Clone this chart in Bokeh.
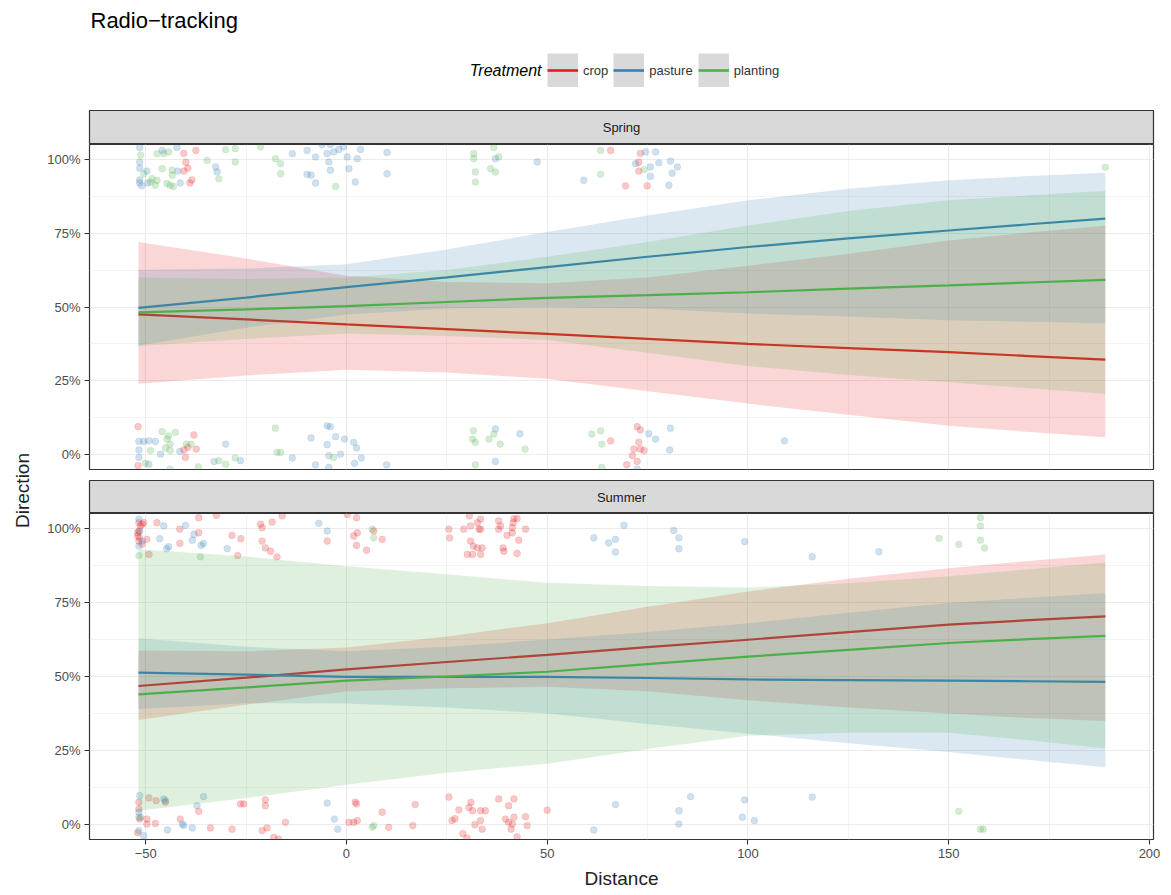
import math
from bokeh.plotting import figure
from bokeh.models import (Range1d, FixedTicker, NumeralTickFormatter, Label,
                          Legend, LegendItem)
from bokeh.layouts import column, row
from bokeh.embed import file_html
from bokeh.resources import INLINE

FONT = "Liberation Sans"
TITLE = "Radio\u2212tracking"
treatments = ["crop", "pasture", "planting"]
colors = ["#E41A1C", "#377EB8", "#4DAF4A"]
seasons = ["Spring", "Summer"]
x_ticks = [-50, 0, 50, 100, 150, 200]
x_minor = [-25, 25, 75, 125, 175]
y_ticks = [0, 0.25, 0.5, 0.75, 1.0]
y_minor = [0.125, 0.375, 0.625, 0.875]

# fitted curves (probability) read at these distances
fit_x = [-51.8, -25, 0, 25, 50, 75, 100, 125, 150, 170, 189]

spring_crop_fit = [0.475, 0.458, 0.441, 0.425, 0.409, 0.392, 0.375, 0.361, 0.347, 0.334, 0.322]
spring_crop_lo = [0.240, 0.268, 0.288, 0.278, 0.257, 0.215, 0.173, 0.135, 0.098, 0.077, 0.059]
spring_crop_hi = [0.720, 0.664, 0.606, 0.585, 0.580, 0.600, 0.640, 0.680, 0.725, 0.752, 0.775]
spring_pasture_fit = [0.497, 0.532, 0.567, 0.600, 0.635, 0.670, 0.703, 0.732, 0.759, 0.780, 0.799]
spring_pasture_lo = [0.370, 0.430, 0.475, 0.495, 0.500, 0.495, 0.478, 0.468, 0.455, 0.450, 0.445]
spring_pasture_hi = [0.626, 0.630, 0.645, 0.695, 0.754, 0.810, 0.861, 0.900, 0.929, 0.943, 0.954]
spring_planting_fit = [0.482, 0.492, 0.503, 0.517, 0.531, 0.540, 0.550, 0.562, 0.573, 0.583, 0.592]
spring_planting_lo = [0.368, 0.392, 0.410, 0.402, 0.388, 0.345, 0.300, 0.270, 0.245, 0.225, 0.206]
spring_planting_hi = [0.600, 0.595, 0.600, 0.625, 0.670, 0.720, 0.776, 0.825, 0.861, 0.878, 0.893]

summer_crop_fit = [0.468, 0.496, 0.524, 0.549, 0.573, 0.599, 0.624, 0.650, 0.675, 0.690, 0.703]
summer_crop_lo = [0.353, 0.405, 0.449, 0.460, 0.465, 0.450, 0.420, 0.395, 0.375, 0.360, 0.350]
summer_crop_hi = [0.588, 0.585, 0.598, 0.635, 0.680, 0.735, 0.787, 0.830, 0.865, 0.890, 0.912]
summer_pasture_fit = [0.513, 0.506, 0.499, 0.499, 0.499, 0.495, 0.490, 0.488, 0.486, 0.484, 0.482]
summer_pasture_lo = [0.390, 0.410, 0.409, 0.395, 0.375, 0.340, 0.307, 0.275, 0.245, 0.218, 0.194]
summer_pasture_hi = [0.629, 0.600, 0.585, 0.600, 0.625, 0.650, 0.680, 0.715, 0.748, 0.766, 0.782]
summer_planting_fit = [0.440, 0.463, 0.486, 0.500, 0.516, 0.542, 0.567, 0.590, 0.613, 0.626, 0.637]
summer_planting_lo = [0.047, 0.090, 0.135, 0.175, 0.206, 0.255, 0.300, 0.310, 0.310, 0.285, 0.257]
summer_planting_hi = [0.929, 0.905, 0.872, 0.845, 0.816, 0.805, 0.800, 0.815, 0.838, 0.862, 0.885]

# jittered observations (distance, direction)
spring_crop_x = [-40.5, -40.0, -39.5, -40.5, -39.0, -38.5, -37.5, 65.8, 73.2, 72.8, 72.8, 69.5, 74.9,
                 -51.9, -38.0, -37.4, -40.1, -39.5, -40.5, -51.9,
                 72.4, 73.2, 65.8, 72.8, 71.6, 73.2, 74.1, 71.2, 72.4, 69.8]
spring_crop_y = [1.02, 0.99, 0.97, 0.96, 0.92, 0.93, 1.03, 1.03, 1.02, 0.99, 0.96, 0.91, 0.91,
                 0.095, 0.067, 0.019, -0.009, 0.025, 0.016, -0.037,
                 0.095, 0.084, 0.047, 0.042, 0.019, 0.019, 0.014, -0.003, -0.023, -0.034]

spring_pasture_x = [-51.5, -51.5, -51.5, -51.5, -51.5, -51.0, -49.7, -49.5, -45.9, -41.4, -42.0, -42.2,
                    -32.6, -32.2, -13.5, -9.8, -7.7, -4.8, -3.2, -1.9, -0.7, -4.4, -4.0, 0.2, 0.6,
                    2.7, 3.5, 2.2, -7.7, -8.8, -9.8, 10.1, 10.1, -6.1, -4.0,
                    37.1, 47.5, 59.1, 74.5, 77.0, 75.7, 77.8, 80.7, 81.1, 82.4, 75.7, 80.3, 72.0,
                    -51.7, -50.5, -49.2, -47.6, -51.7, -51.7, -49.2, -46.3, -41.5, -30.1, -33.0, -26.4,
                    -4.8, -4.0, -8.8, -2.7, -0.5, 1.8, 2.5, -4.8, -1.5, -4.4, -13.5, -7.7, -4.4, 2.0,
                    3.7, 10.0, 37.1, 43.2, 75.3, 77.0, 80.7, 80.5, 37.1, 72.4, 109.1]
spring_pasture_y = [1.04, 0.99, 0.97, 0.93, 0.92, 0.91, 0.96, 0.92, 1.03, 0.92, 0.96, 1.04,
                    0.974, 0.957, 1.019, 1.03, 1.008, 1.019, 1.025, 1.033, 1.042, 0.991, 0.963, 1.008,
                    0.968, 1.002, 1.033, 0.923, 0.92, 0.946, 0.949, 1.023, 0.951, 1.05, 1.05,
                    1.002, 0.991, 0.929, 1.025, 1.025, 0.974, 0.988, 0.994, 0.953, 0.974, 0.942, 0.912, 0.985,
                    0.045, 0.045, 0.047, 0.045, 0.016, -0.009, -0.032, 0.002, 0.011, 0.036, -0.023, -0.02,
                    0.098, 0.095, 0.057, 0.061, 0.053, 0.042, 0.023, 0.034, 0.002, -0.003, -0.011, -0.034,
                    -0.043, -0.029, -0.011, -0.034, 0.087, 0.071, 0.071, 0.053, 0.09, 0.016, -0.023,
                    -0.049, 0.047]

spring_planting_x = [-51.3, -50.5, -47.2, -45.5, -44.3, -45.9, -43.4, -43.4, -48.4, -47.2, -44.7, -43.9,
                     -43.1, -47.6, -48.8, -34.7, -31.8, -27.7, -27.7, -30.1, -21.4, -17.7, -16.4, -16.4,
                     -2.7, 31.7, 31.7, 32.1, 32.1, 36.7, 37.9, 35.9, 37.1, 63.3, 63.3, 74.1, 189.0,
                     -45.9, -44.3, -42.6, -44.7, -43.9, -45.1, -48.8, -39.9, -38.7, -43.9, -50.1, -31.8,
                     -30.1, -27.7, -36.9, -43.9, -17.7, -17.3, -16.4, -3.2, 31.6, 31.4, 32.1, 32.1,
                     36.7, 35.5, 38.3, 44.5, 61.1, 63.3, 63.6, 63.6]
spring_planting_y = [1.014, 0.951, 1.019, 1.019, 1.025, 0.968, 0.963, 0.946, 0.934, 0.929, 0.918, 0.912,
                     0.908, 0.912, 0.923, 0.996, 0.934, 0.991, 1.036, 1.033, 1.042, 1.002, 0.985, 0.951,
                     0.908, 1.019, 1.002, 0.957, 0.923, 1.04, 1.008, 0.968, 0.957, 1.03, 0.949, 0.965, 0.973,
                     0.078, 0.064, 0.076, 0.053, 0.036, 0.023, 0.014, 0.036, 0.036, 0.014, -0.029, -0.02,
                     -0.032, -0.011, -0.041, -0.049, 0.09, 0.008, 0.008, -0.009, 0.081, 0.053, 0.042, -0.034,
                     0.07, 0.053, 0.036, 0.019, 0.07, 0.081, 0.036, -0.043]

summer_crop_x = [-51.7, -51.3, -50.5, -51.7, -52.0, -51.7, -50.9, -49.7, -49.2, -47.2, -41.5, -41.5,
                 -36.8, -36.8, -32.4, -28.5, -26.3, -27.1, -21.4, -21.0, -21.0, -20.2, -18.5, -18.9,
                 -17.3, -16.0, -4.8, 0.2, 2.5, 2.7, 1.8, 2.5, 5.0, 8.9, 6.8, -52.0, -51.5, -50.9,
                 25.5, 25.7, 29.2, 30.9, 32.6, 33.0, 30.9, 31.6, 30.1, 31.4, 32.6, 30.6,
                 33.4, 33.4, 33.8, 33.4, 37.9, 37.9, 38.4, 40.0, 41.3, 41.3, 41.7, 42.5, 41.5, 42.9,
                 42.5, 39.0, 39.2, 44.6,
                 -51.7, -51.7, -51.5, -49.2, -49.7, -47.4, -45.1, -47.6, -41.4, -36.8, -33.9, -28.5,
                 -26.4, -25.6, -20.2, -20.2, -21.0, -19.8, -18.1, -16.9, -15.2, 2.2, 2.5, 8.9, 0.6,
                 1.8, 2.7, 10.5, 16.5, 17.1, 25.5, 26.3, 30.5, 31.4, -52.0, -49.7,
                 33.4, 34.6, 37.9, 40.4, 41.7, 39.6, 40.4, 41.3, 41.7, 41.0, 42.5, 44.6, 45.0, 50.0,
                 33.4, 33.8, 27.0, 29.0, 31.0, 28.0, 32.0, 30.0]
summer_crop_y = [1.019, 1.008, 1.019, 0.991, 0.974, 0.957, 0.946, 0.963, 0.912, 1.019, 0.997, 0.949,
                 1.036, 0.985, 1.044, 0.976, 0.965, 0.908, 1.014, 1.002, 0.957, 0.934, 1.021, 0.923,
                 0.904, 1.042, 0.957, 1.047, 1.036, 0.985, 0.974, 0.942, 0.926, 0.963, 0.991, 0.985,
                 0.968, 1.014,
                 0.997, 0.968, 0.997, 1.008, 1.019, 0.997, 0.957, 0.94, 0.912, 0.912, 0.934, 1.042,
                 1.031, 0.997, 0.934, 0.912, 1.025, 0.997, 1.008, 0.976, 1.002, 0.985, 1.033, 1.033,
                 1.019, 0.96, 0.915, 0.934, 0.923, 0.997,
                 0.076, 0.053, 0.019, 0.09, 0.019, 0.081, 0.076, 0.004, 0.019, 0.045, -0.011, -0.015,
                 0.07, 0.07, 0.084, 0.064, -0.02, -0.011, -0.043, -0.049, 0.008, 0.076, 0.07, 0.042,
                 0.008, 0.008, 0.014, -0.009, -0.003, 0.068, 0.093, 0.014, 0.058, 0.047, -0.027, 0.002,
                 0.047, 0.047, 0.087, 0.064, 0.087, 0.019, 0.008, 0.002, 0.025, -0.015, -0.041, 0.027,
                 -0.003, 0.049, 0.014, -0.015, 0.02, -0.03, 0.075, 0.05, 0.0, -0.045]

summer_pasture_x = [-51.7, -51.7, -45.5, -40.1, -38.0, -46.5, -44.3, -44.8, -38.4, -35.6, -36.2, -29.7,
                    -6.9, -4.8, -50.9, -51.5, 61.6, 65.3, 67.0, 67.0, 69.1, 81.5, 82.8, 82.8, 99.2,
                    116.0, 132.6,
                    -51.5, -51.7, -51.3, -51.7, -50.5, -45.1, -45.5, -37.2, -35.6, -40.9, -40.5, -38.4,
                    -44.6, -4.8, -3.0, -2.2, 61.6, 67.0, 82.8, 82.8, 85.7, 99.2, 98.6, 101.6, 116.0]
summer_pasture_y = [1.031, 0.94, 1.008, 1.01, 0.98, 0.965, 0.938, 0.931, 0.96, 0.949, 0.942, 0.931,
                    1.017, 0.991, 0.957, 0.99, 0.968, 0.951, 0.963, 0.92, 1.01, 0.993, 0.968, 0.931, 0.955,
                    0.904, 0.921,
                    0.098, 0.042, 0.025, -0.02, -0.037, 0.081, 0.087, 0.064, 0.095, 0.002, -0.003, -0.011,
                    -0.018, 0.073, 0.019, -0.015, -0.018, 0.068, 0.047, 0.002, 0.095, 0.084, 0.025, 0.014,
                    0.093]

summer_planting_x = [-51.7, -36.4, 6.8, 6.4, 147.6, 152.5, 157.9, 157.9, 157.9, 158.9,
                     -51.7, 6.8, 6.4, 152.5, 157.9, 158.6]
summer_planting_y = [0.908, 0.904, 0.968, 0.997, 0.966, 0.946, 1.036, 1.008, 0.96, 0.934,
                     0.025, -0.003, -0.009, 0.045, -0.015, -0.015]

points = {
    "Spring": [(spring_crop_x, spring_crop_y), (spring_pasture_x, spring_pasture_y),
               (spring_planting_x, spring_planting_y)],
    "Summer": [(summer_crop_x, summer_crop_y), (summer_pasture_x, summer_pasture_y),
               (summer_planting_x, summer_planting_y)],
}
fits = {
    "Spring": [(spring_crop_fit, spring_crop_lo, spring_crop_hi),
               (spring_pasture_fit, spring_pasture_lo, spring_pasture_hi),
               (spring_planting_fit, spring_planting_lo, spring_planting_hi)],
    "Summer": [(summer_crop_fit, summer_crop_lo, summer_crop_hi),
               (summer_pasture_fit, summer_pasture_lo, summer_pasture_hi),
               (summer_planting_fit, summer_planting_lo, summer_planting_hi)],
}

COL_W = 1131
BL, BR = 49, 18
NAN = float("nan")


def strip(label, height):
    s = figure(width=COL_W, height=height, x_range=Range1d(0, 1), y_range=Range1d(0, 1),
               x_axis_location=None, y_axis_location=None, output_backend="svg",
               toolbar_location=None, min_border_left=BL, min_border_right=BR,
               min_border_top=1, min_border_bottom=0)
    s.grid.visible = False
    s.background_fill_color = "#D9D9D9"
    s.outline_line_color = "#333333"
    s.outline_line_width = 1.2
    s.add_layout(Label(x=0.5, y=0.5, text=label, text_align="center", text_baseline="middle",
                       text_font=FONT, text_font_size="13px", text_color="#1A1A1A"))
    return s


def panel(season, height, show_x):
    p = figure(width=COL_W, height=height, x_range=Range1d(-64, 201), y_range=Range1d(-0.05, 1.05),
               output_backend="svg", toolbar_location=None, min_border_left=BL, min_border_right=BR,
               min_border_top=0, min_border_bottom=(56 if show_x else 10))
    p.background_fill_color = "white"
    p.outline_line_color = "#333333"
    p.outline_line_width = 1.2
    xt = FixedTicker(ticks=x_ticks, minor_ticks=x_minor)
    yt = FixedTicker(ticks=y_ticks, minor_ticks=y_minor)
    p.xaxis.ticker = xt
    p.yaxis.ticker = yt
    p.xgrid.ticker = xt
    p.ygrid.ticker = yt
    p.yaxis.formatter = NumeralTickFormatter(format="0%")
    for g in (p.xgrid, p.ygrid):
        g.grid_line_color = "#EBEBEB"
        g.grid_line_width = 1.1
        g.minor_grid_line_color = "#EBEBEB"
        g.minor_grid_line_width = 0.6
    for ax in (p.xaxis, p.yaxis):
        ax.axis_line_color = None
        ax.major_tick_line_color = "#333333"
        ax.major_tick_line_width = 1.1
        ax.major_tick_out = 5
        ax.major_tick_in = 0
        ax.minor_tick_line_color = None
        ax.major_label_text_font = FONT
        ax.major_label_text_font_size = "13px"
        ax.major_label_text_color = "#4D4D4D"
        ax.major_label_standoff = 4
    if show_x:
        p.xaxis.axis_label = "Distance"
        p.xaxis.axis_label_text_font = FONT
        p.xaxis.axis_label_text_font_size = "19px"
        p.xaxis.axis_label_text_font_style = "normal"
        p.xaxis.axis_label_text_color = "#222222"
        p.xaxis.axis_label_standoff = 7
    else:
        p.xaxis.visible = False

    for (xs, ys), c in zip(points[season], colors):
        p.scatter(xs, ys, size=6.8, fill_color=c, fill_alpha=0.24,
                  line_color=c, line_alpha=0.24, line_width=0.5)
    for (mid, lo, hi), c in zip(fits[season], colors):
        p.varea(x=fit_x, y1=lo, y2=hi, fill_color=c, fill_alpha=0.18)
        p.line(fit_x, mid, line_color=c, line_width=2.2)
    return p


# header with title and legend
hdr = figure(width=1171, height=109, x_range=Range1d(0, 1171), y_range=Range1d(0, 109),
             x_axis_location=None, y_axis_location=None, output_backend="svg",
             toolbar_location=None, min_border=0)
hdr.grid.visible = False
hdr.outline_line_color = None
hdr.add_layout(Label(x=90, y=89, text=TITLE, text_baseline="middle", text_font=FONT,
                     text_font_size="22px", text_color="black"))
hdr.add_layout(Label(x=541, y=39, text="Treatment", text_align="right", text_baseline="middle",
                     text_font=FONT, text_font_size="16px", text_font_style="italic",
                     text_color="black"))
# legend key renderers (placeholder rows only; nothing drawn inside the frame)
# the grey key background is a very wide butt-capped line, so it fills the key box exactly
key_bg = hdr.line(x=[NAN], y=[NAN], line_color="#D9D9D9", line_width=34, line_cap="butt")
items = []
for t, c in zip(treatments, colors):
    ln = hdr.line(x=[NAN], y=[NAN], line_color=c, line_width=2.6, line_cap="butt")
    items.append(LegendItem(label=t, renderers=[key_bg, ln]))
legend = Legend(items=items, orientation="horizontal", location=(547, 22),
                glyph_width=31, glyph_height=34, label_standoff=5, spacing=5, padding=0,
                margin=0, border_line_color=None, background_fill_alpha=0,
                label_text_font=FONT, label_text_font_size="13px", label_text_color="#333333")
hdr.add_layout(legend)

# left label
dirfig = figure(width=40, height=786, x_range=Range1d(0, 40), y_range=Range1d(0, 786),
                x_axis_location=None, y_axis_location=None, output_backend="svg",
                toolbar_location=None, min_border=0)
dirfig.grid.visible = False
dirfig.outline_line_color = None
dirfig.add_layout(Label(x=22, y=405, text="Direction", angle=math.pi / 2, text_align="center",
                        text_baseline="middle", text_font=FONT, text_font_size="19px",
                        text_color="#222222"))

s1 = strip("Spring", 35)
p1 = panel("Spring", 335, False)
s2 = strip("Summer", 34)
p2 = panel("Summer", 382, True)

layout = column(hdr, row(dirfig, column(s1, p1, s2, p2)))
open("out.html", "w").write(file_html(layout, INLINE))
